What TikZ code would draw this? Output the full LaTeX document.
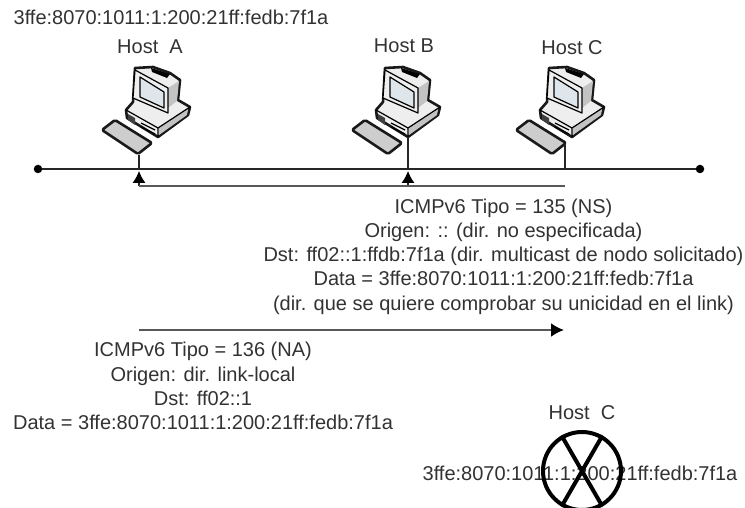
\documentclass[tikz,border=0pt]{standalone}
\usepackage{fontspec}
\setmainfont{Liberation Sans}
\usepackage{tikz}
\usetikzlibrary{arrows.meta,positioning}
\definecolor{TextGray}{RGB}{50,50,50}
\definecolor{CaseGray}{RGB}{238,238,238}
\definecolor{SideGray}{RGB}{195,195,195}
\definecolor{KeyGray}{RGB}{205,205,205}
\definecolor{ScreenBlue}{RGB}{222,230,236}
\tikzset{
  lbl/.style={text=TextGray,font=\fontsize{20}{24.2}\selectfont,inner sep=0pt,align=center},
  wire/.style={line width=1.4pt,draw=black!85},
  tap/.style={line width=1.1pt,draw=black!85},
  msg/.style={line width=2.2pt,draw=black!65},
  tipup/.style={-{Latex[length=12pt,width=13pt,black]}},
  tipright/.style={-{Latex[length=13pt,width=14pt,black]}},
  dot/.style={circle,fill=black,inner sep=0pt,minimum size=8.5pt},
  pcline/.style={line width=2.6pt,draw=black!90,line join=round},
  thinline/.style={line width=1.2pt,draw=black,line join=round},
  nopeline/.style={line width=4pt,draw=black},
}
% host computer: #1 = x of the lower corner of the keyboard
\newcommand{\hostpc}[1]{%
  \begin{scope}[shift={(#1,155)}]
    \filldraw[pcline,fill=CaseGray] (-4,-87)--(14,-88)--(31,-82)--(41,-75)--(39,-55)--(51,-48)--(49,-40)--(19,-18)--(-12,-37)--(-13,-45)--(-6,-53)--cycle;
    \fill[SideGray] (29,-67)--(40,-74)--(38,-54)--(29,-47)--cycle;
    \fill[SideGray] (20,-28)--(49,-47)--(48,-40)--(20,-20)--cycle;
    \fill[black] (12,-87)--(31,-81)--(28,-77)--(13,-83)--cycle;
    \filldraw[thinline,fill=CaseGray] (-4,-85)--(29,-67)--(29,-42)--(-6,-57)--cycle;
    \filldraw[thinline,fill=ScreenBlue] (1,-78)--(25,-63)--(25,-47)--(1,-58)--cycle;
    \draw[thinline] (-13,-45)--(19,-27)--(19,-18) (19,-27)--(51,-48);
    \fill[black!75] (-11,-41)--(-4,-37)--(-4,-30)--(-11,-35)--cycle;
    \draw[thinline] (2,-32)--(16,-25) (2,-28)--(16,-21);
    \filldraw[pcline,fill=KeyGray,rounded corners=1.5pt] (-37,-25)--(-24,-35)--(13,-12)--(-1,-1)--cycle;
  \end{scope}}
\begin{document}
\begin{tikzpicture}[x=1pt,y=-1pt]
  \clip (0,0) rectangle (745,508);
  \useasboundingbox (0,0) rectangle (745,508);
  \node[lbl] (addr) at (171,17) {3ffe:8070:1011:1:200:21ff:fedb:7f1a};
  \node[lbl] (labA) at (150,47) {Host\ \ A};
  \node[lbl] (labB) at (404,46) {Host B};
  \node[lbl] (labC) at (572,48) {Host C};
  \hostpc{139}
  \hostpc{389}
  \hostpc{553}
  % bus
  \node[dot] (busL) at (38,169) {};
  \node[dot] (busR) at (700,169) {};
  \draw[wire] (busL)--(busR);
  \coordinate (footA) at (139,155);
  \coordinate (footB) at (408,137);
  \coordinate (footC) at (565,144);
  \coordinate (tapA) at (139,169);
  \coordinate (tapB) at (408,169);
  \coordinate (tapC) at (565,169);
  \draw[tap] (footA)--(tapA);
  \draw[tap] (footB)--(tapB);
  \draw[tap] (footC)--(tapC);
  % NS message
  \coordinate (nsA) at (139,186);
  \coordinate (nsB) at (408,186);
  \coordinate (nsC) at (565,186);
  \coordinate (upA) at (139,171);
  \coordinate (upB) at (408,171);
  \draw[tap,tipup] (nsA)--(upA);
  \draw[tap,tipup] (nsB)--(upB);
  \draw[msg] (nsA)--(nsC);
  \node[lbl] (nsText) at (503.5,256.5) {ICMPv6 Tipo = 135 (NS)\\Origen: :: (dir. no especificada)\\Dst: ff02::1:ffdb:7f1a (dir. multicast de nodo solicitado)\\Data = 3ffe:8070:1011:1:200:21ff:fedb:7f1a\\(dir. que se quiere comprobar su unicidad en el link)};
  % NA message
  \coordinate (naA) at (139,330);
  \coordinate (naC) at (564,330);
  \draw[msg,tipright] (naA)--(naC);
  \node[lbl] (naText) at (203,386) {ICMPv6 Tipo = 136 (NA)\\Origen: dir. link-local\\Dst: ff02::1\\Data = 3ffe:8070:1011:1:200:21ff:fedb:7f1a};
  % host C, address refused
  \node[lbl] (labC2) at (582,413) {Host\ \ C};
  \node[lbl] (addrC) at (580,473) {3ffe:8070:1011:1:200:21ff:fedb:7f1a};
  \node[circle,nopeline,minimum size=78pt,inner sep=0pt] (nope) at (582,471) {};
  \draw[nopeline] (nope.120)--(nope.-60);
  \draw[nopeline] (nope.60)--(nope.-120);
\end{tikzpicture}
\end{document}
